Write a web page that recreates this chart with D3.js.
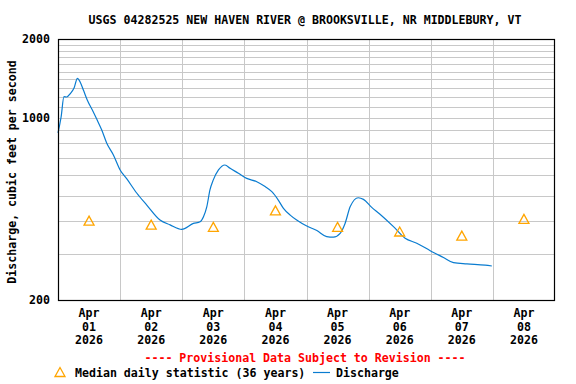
<!DOCTYPE html>
<html><head><meta charset="utf-8">
<script src="https://cdn.jsdelivr.net/npm/d3@7"></script>
<style>body{margin:0;background:#fff}svg{display:block}text{font-family:"DejaVu Sans Mono",monospace;font-weight:bold;font-size:11.6px}</style>
</head><body><svg id="c" width="576" height="384"></svg>
<script>
const title = "USGS 04282525 NEW HAVEN RIVER @ BROOKSVILLE, NR MIDDLEBURY, VT";
// hours since 2026-04-01 00:00
const dischargeHours = [0,1.2,2.3,3.4,4.6,6.2,7.5,8.5,9.8,11.3,13.6,15,16.9,18.8,21.4,24,26.6,30.4,34.3,39.4,43.3,47.8,52.3,54.9,56.2,57.5,58.7,60,62,64.5,66.5,69.7,72.9,76.8,80,82.6,85.1,87.1,89.7,92.2,96.1,100,103.8,106.4,109,110.9,112.9,116,118,121.2,124.4,129.6,134.1,138.6,143.8,148.9,152.8,158,165,167.6];
const dischargeValues = [873,1005,1202,1199,1231,1298,1414,1372,1275,1168,1053,985,896,799,719,630,582,514,462,405,388,373,393,399,417,456,528,577,630,658,639,612,585,568,544,520,483,449,423,405,384,369,350,348,360,393,456,493,486,453,426,382,345,330,309,291,278,275,272,270];
const medianDays = ["2026-04-01","2026-04-02","2026-04-03","2026-04-04","2026-04-05","2026-04-06","2026-04-07","2026-04-08"];
const medianValues = [403,389,381,441,381,366,353,409];
const yTicks = [200,1000,2000];
const yGrid = [300,400,500,600,700,800,900,1000,1100,1200,1300,1400,1500,1600,1700,1800,1900];

const svg = d3.select("#c");
const L=58,R=555,T=39,B=300;
const t0 = new Date(2026,3,1,0,0);
const x = d3.scaleTime().domain([t0,new Date(2026,3,9,0,0)]).range([L,R]);
const y = d3.scaleLog().domain([200,2000]).range([B,T]);
const hr = h => new Date(t0.getTime()+h*3600e3);

const g = svg.append("g");
// horizontal grid
g.selectAll(".hg").data(yGrid).join("line")
 .attr("x1",L).attr("x2",R).attr("y1",d=>Math.round(y(d))+0.5).attr("y2",d=>Math.round(y(d))+0.5)
 .attr("stroke","#c8c8c8").attr("stroke-width",1);
// vertical grid
const days = d3.timeDay.range(new Date(2026,3,2),new Date(2026,3,9));
g.selectAll(".vg").data(days).join("line")
 .attr("x1",d=>Math.round(x(d))+0.5).attr("x2",d=>Math.round(x(d))+0.5).attr("y1",T).attr("y2",B)
 .attr("stroke","#c8c8c8").attr("stroke-width",1);

// discharge line
const pts = dischargeHours.map((h,i)=>[hr(h),dischargeValues[i]]);
svg.append("path").datum(pts)
 .attr("d",d3.line().x(d=>x(d[0])).y(d=>y(d[1])).curve(d3.curveMonotoneX))
 .attr("fill","none").attr("stroke","#0a7cd0").attr("stroke-width",1.2);

// median triangles
const tri = (cx,cy)=>`M${cx-5},${cy+4.5}L${cx},${cy-4.5}L${cx+5},${cy+4.5}Z`;
const parse = d3.timeParse("%Y-%m-%d");
svg.selectAll(".m").data(medianDays).join("path")
 .attr("d",(d,i)=>tri(x(d3.timeHour.offset(parse(d),12)),y(medianValues[i])))
 .attr("fill","none").attr("stroke","#ffa500").attr("stroke-width",1.3);

// frame
svg.append("rect").attr("x",L+0.5).attr("y",T+0.5).attr("width",R-L-1).attr("height",B-T)
 .attr("fill","none").attr("stroke","#000").attr("stroke-width",1.2);

// y ticks
svg.selectAll(".yt").data(yTicks).join("text")
 .attr("x",L-8).attr("y",d=>y(d)+4).attr("text-anchor","end").text(d=>d);

// x labels
const fmtM=d3.timeFormat("%b"),fmtD=d3.timeFormat("%d"),fmtY=d3.timeFormat("%Y");
const labelDays = medianDays.map(d=>d3.timeHour.offset(parse(d),12));
const xl = svg.selectAll(".xl").data(labelDays).join("text")
 .attr("text-anchor","middle");
xl.append("tspan").attr("x",d=>x(d)).attr("y",317).text(fmtM);
xl.append("tspan").attr("x",d=>x(d)).attr("y",331).text(fmtD);
xl.append("tspan").attr("x",d=>x(d)).attr("y",344).text(fmtY);

// title
svg.append("text").attr("x",305).attr("y",24).attr("text-anchor","middle").text(title);
// y title
svg.append("text").attr("transform","translate(16,172) rotate(-90)").attr("text-anchor","middle")
 .text("Discharge, cubic feet per second");
// provisional
svg.append("text").attr("x",305).attr("y",362).attr("text-anchor","middle").attr("fill","#ff0000")
 .text("---- Provisional Data Subject to Revision ----");
// legend
svg.append("path").attr("d",tri(60,372)).attr("fill","none").attr("stroke","#ffa500").attr("stroke-width",1.3);
svg.append("text").attr("x",75).attr("y",377).text("Median daily statistic (36 years)");
svg.append("line").attr("x1",313).attr("x2",330).attr("y1",372.5).attr("y2",372.5).attr("stroke","#0a7cd0").attr("stroke-width",1.2);
svg.append("text").attr("x",336).attr("y",377).text("Discharge");
</script></body></html>
